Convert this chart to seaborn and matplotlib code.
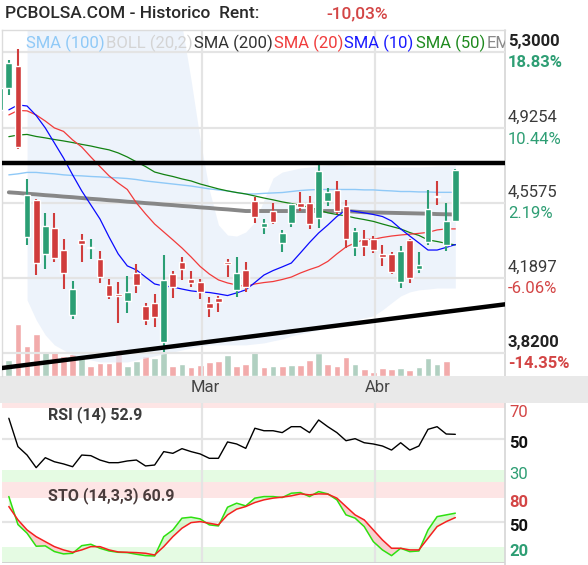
import matplotlib
matplotlib.use("Agg")

import matplotlib.pyplot as plt
import matplotlib.transforms as mtransforms
import numpy as np
import seaborn as sns
from matplotlib.lines import Line2D
from matplotlib.patches import Rectangle

W, H = 588, 565

# daily candles, day index 0..50
DAYS = list(range(51))
OPEN = [5.014, 5.121, 5.231, 4.391, 4.572, 4.307, 4.434, 4.325, 4.007, 4.375,
        4.335, 4.283, 4.153, 4.110, 4.076, 4.214, 4.051, 4.066, 3.874, 4.206,
        4.268, 4.183, 4.169, 4.063, 4.088, 4.268, 4.129, 4.227, 4.567, 4.440,
        4.519, 4.358, 4.457, 4.557, 4.558, 4.481, 4.567, 4.621, 4.543, 4.340,
        4.380, 4.378, 4.306, 4.306, 4.169, 4.375, 4.230, 4.363, 4.593, 4.350,
        4.468]
HIGH = [5.130, 5.261, 5.313, 4.673, 4.576, 4.506, 4.506, 4.378, 4.174, 4.404,
        4.378, 4.322, 4.181, 4.169, 4.197, 4.257, 4.063, 4.109, 4.301, 4.222,
        4.290, 4.222, 4.181, 4.096, 4.099, 4.280, 4.290, 4.268, 4.585, 4.478,
        4.555, 4.424, 4.558, 4.611, 4.591, 4.744, 4.631, 4.665, 4.572, 4.435,
        4.424, 4.394, 4.350, 4.317, 4.345, 4.380, 4.316, 4.621, 4.665, 4.555,
        4.726]
LOW = [5.000, 5.088, 4.823, 4.352, 4.204, 4.233, 4.268, 4.132, 3.984, 4.268,
       4.283, 4.164, 4.086, 3.968, 4.017, 4.112, 3.956, 3.948, 3.825, 4.091,
       4.178, 4.145, 4.083, 3.997, 4.022, 4.194, 4.096, 4.117, 4.460, 4.403,
       4.452, 4.317, 4.440, 4.519, 4.430, 4.432, 4.543, 4.503, 4.334, 4.296,
       4.296, 4.309, 4.248, 4.206, 4.140, 4.164, 4.211, 4.350, 4.547, 4.322,
       4.463]
CLOSE = [5.121, 5.247, 4.834, 4.596, 4.263, 4.444, 4.288, 4.211, 4.132, 4.353,
         4.342, 4.194, 4.100, 4.098, 4.117, 4.153, 3.981, 3.994, 4.178, 4.145,
         4.232, 4.162, 4.120, 4.038, 4.071, 4.255, 4.211, 4.145, 4.489, 4.460,
         4.465, 4.408, 4.550, 4.539, 4.452, 4.714, 4.609, 4.516, 4.378, 4.420,
         4.345, 4.325, 4.290, 4.216, 4.322, 4.186, 4.252, 4.526, 4.588, 4.468,
         4.719]
VOLUME = [1.20, 1.60, 5.17, 3.00, 4.17, 2.50, 2.40, 2.00, 2.17, 1.90,
          1.00, 1.33, 1.33, 2.67, 1.00, 1.50, 2.00, 1.83, 2.50, 1.00,
          1.23, 0.90, 1.10, 1.40, 1.50, 2.10, 1.00, 1.23, 2.50, 0.90,
          1.00, 1.00, 1.10, 1.10, 1.60, 2.27, 1.23, 1.00, 1.90, 1.23,
          0.67, 0.40, 0.77, 0.67, 0.77, 0.57, 0.90, 1.77, 1.23, 1.50,
          0.00]
VOLUME_UP = [1, 1, 0, 0, 0, 1, 0, 0, 0, 1,
             0, 0, 0, 0, 1, 1, 0, 1, 1, 0,
             1, 0, 0, 0, 0, 1, 0, 0, 1, 0,
             1, 0, 1, 0, 0, 1, 0, 0, 0, 1,
             0, 0, 0, 0, 1, 0, 1, 1, 1, 0,
             1]

# indicators, day index 1..50
IND_DAYS = list(range(1, 51))
SMA10 = [5.015, 5.039, 5.034, 4.987, 4.926, 4.852, 4.778, 4.695, 4.616, 4.547,
         4.478, 4.389, 4.306, 4.247, 4.227, 4.192, 4.158, 4.148, 4.143, 4.133,
         4.124, 4.119, 4.116, 4.109, 4.101, 4.114, 4.129, 4.165, 4.202, 4.224,
         4.242, 4.261, 4.311, 4.362, 4.409, 4.448, 4.490, 4.522, 4.515, 4.508,
         4.500, 4.490, 4.468, 4.429, 4.394, 4.360, 4.325, 4.325, 4.338, 4.352]
SMA20 = [4.990, 5.012, 5.010, 4.990, 4.960, 4.926, 4.909, 4.867, 4.832, 4.783,
         4.736, 4.690, 4.655, 4.623, 4.557, 4.503, 4.453, 4.414, 4.375, 4.335,
         4.291, 4.244, 4.207, 4.178, 4.163, 4.153, 4.146, 4.158, 4.165, 4.170,
         4.180, 4.192, 4.212, 4.229, 4.244, 4.269, 4.306, 4.340, 4.360, 4.377,
         4.378, 4.387, 4.394, 4.399, 4.403, 4.407, 4.412, 4.424, 4.429, 4.429]
SMA50 = [4.883, 4.891, 4.894, 4.884, 4.877, 4.869, 4.862, 4.854, 4.845, 4.837,
         4.827, 4.818, 4.803, 4.783, 4.759, 4.736, 4.709, 4.697, 4.687, 4.675,
         4.665, 4.650, 4.638, 4.626, 4.616, 4.608, 4.601, 4.591, 4.581, 4.572,
         4.562, 4.554, 4.545, 4.535, 4.522, 4.508, 4.500, 4.493, 4.483, 4.475,
         4.466, 4.453, 4.441, 4.429, 4.411, 4.397, 4.375, 4.367, 4.358, 4.350]
SMA100 = [4.695, 4.700, 4.707, 4.707, 4.703, 4.700, 4.695, 4.692, 4.690, 4.687,
          4.685, 4.682, 4.680, 4.677, 4.672, 4.665, 4.660, 4.655, 4.650, 4.645,
          4.640, 4.633, 4.626, 4.621, 4.616, 4.608, 4.601, 4.601, 4.604, 4.606,
          4.608, 4.613, 4.618, 4.621, 4.623, 4.623, 4.623, 4.623, 4.623, 4.621,
          4.621, 4.618, 4.616, 4.613, 4.613, 4.611, 4.611, 4.609, 4.609, 4.609]
SMA200 = [4.609, 4.606, 4.602, 4.599, 4.595, 4.592, 4.588, 4.585, 4.581, 4.577,
          4.574, 4.570, 4.567, 4.563, 4.560, 4.556, 4.553, 4.549, 4.546, 4.542,
          4.539, 4.535, 4.532, 4.528, 4.525, 4.521, 4.517, 4.517, 4.517, 4.517,
          4.517, 4.517, 4.517, 4.517, 4.517, 4.517, 4.517, 4.517, 4.514, 4.511,
          4.510, 4.509, 4.508, 4.507, 4.506, 4.505, 4.504, 4.502, 4.501, 4.500]

# bollinger (20,2), day index 3..50
BOLL_DAYS = list(range(3, 51))
BOLL_UP = [5.52, 5.58, 5.62, 5.64, 5.65, 5.66, 5.66, 5.65, 5.64, 5.62,
           5.60, 5.58, 5.55, 5.52, 5.50, 5.47, 5.45, 5.43, 5.162, 4.867,
           4.621, 4.449, 4.399, 4.394, 4.414, 4.463, 4.572, 4.680, 4.709, 4.719,
           4.729, 4.734, 4.739, 4.744, 4.744, 4.741, 4.739, 4.739, 4.736, 4.734,
           4.734, 4.734, 4.734, 4.734, 4.736, 4.739, 4.739, 4.739]
BOLL_DN = [4.079, 3.981, 3.907, 3.858, 3.833, 3.809, 3.794, 3.784, 3.774, 3.774,
           3.774, 3.774, 3.784, 3.794, 3.804, 3.814, 3.823, 3.833, 3.843, 3.853,
           3.858, 3.858, 3.858, 3.858, 3.858, 3.863, 3.868, 3.878, 3.887, 3.902,
           3.912, 3.922, 3.932, 3.942, 3.956, 3.971, 3.981, 3.991, 4.001, 4.030,
           4.065, 4.099, 4.119, 4.129, 4.133, 4.138, 4.138, 4.138]

RSI = [63.2, 45.0, 39.6, 31.5, 37.9, 35.3, 33.9, 32.1, 39.6, 39.2,
       36.4, 34.7, 34.7, 35.8, 36.4, 32.6, 33.2, 41.8, 40.7, 43.7,
       41.8, 40.3, 37.5, 37.5, 48.0, 46.7, 43.9, 56.8, 55.2, 55.2,
       54.0, 57.8, 57.8, 54.0, 62.1, 57.8, 54.0, 48.8, 50.1, 47.5,
       46.7, 45.4, 42.8, 47.5, 42.8, 45.4, 56.1, 57.8, 53.1, 52.9]
STO_K = [81.2, 47.0, 36.4, 20.5, 20.9, 14.0, 11.1, 11.9, 21.2, 22.9,
         18.0, 14.7, 13.1, 12.7, 10.7, 9.0, 8.6, 32.2, 40.4, 54.8,
         56.0, 53.9, 46.6, 45.3, 68.2, 73.1, 69.8, 79.3, 81.2, 81.2,
         80.0, 85.3, 86.1, 81.2, 87.3, 84.5, 77.2, 58.8, 54.8, 44.5,
         26.1, 16.0, 9.0, 18.0, 13.9, 14.7, 40.4, 56.7, 58.8, 60.9]
STO_D = [69.0, 52.7, 40.4, 32.2, 26.1, 20.0, 16.0, 13.1, 16.0, 20.0,
         20.0, 16.0, 13.5, 13.1, 12.7, 11.9, 9.8, 20.0, 32.2, 42.5,
         49.4, 50.6, 48.6, 46.6, 58.8, 65.8, 69.0, 73.9, 77.2, 79.3,
         80.5, 82.1, 84.5, 83.3, 84.5, 84.2, 79.3, 69.0, 58.8, 52.7,
         40.4, 28.2, 18.0, 18.0, 16.0, 16.0, 30.3, 44.5, 50.6, 55.5]

# drawn trend lines
RESIST_LEVEL = 4.755
SUPPORT_X = [0.0, 55.5]
SUPPORT_Y = [3.743, 4.058]

PRICE_TICKS = [5.3, 4.9254, 4.5575, 4.1897, 3.82]
PRICE_LABELS = ["5,3000", "4,9254", "4,5575", "4,1897", "3,8200"]
PCT_LABELS = ["18.83%", "10.44%", "2.19%", "-6.06%", "-14.35%"]
MONTH_POS = [22.25, 41.2]
MONTH_LABELS = ["Mar", "Abr"]

LEGEND = [("SMA (100)", "#8fc9f7", 25.5), ("BOLL (20,2)", "#d4d4d4", 106),
          ("SMA (200)", "#333333", 194), ("SMA (20)", "#f03c3c", 274),
          ("SMA (10)", "#1a1aff", 344), ("SMA (50)", "#1e8a1e", 416),
          ("EMA", "#8a8a8a", 487)]

UP, DOWN = "#2b9e74", "#d03c3c"
VOL_UP_C, VOL_DN_C = "#b1d0c1", "#f2abab"
GREEN_TXT, RED_TXT = "#2e9e74", "#d34545"


def rect(left, top, right, bottom):
    return [left / W, 1 - bottom / H, (right - left) / W, (bottom - top) / H]


def style():
    sns.set_theme(style="white")
    plt.rcParams.update({"font.family": ["Roboto", "DejaVu Sans"], "axes.linewidth": 0})


def draw_price(fig):
    ax = fig.add_axes(rect(2, 30, 505, 376))
    vol = ax.twinx()
    ax.set_zorder(2)
    ax.patch.set_visible(False)
    vol.set_facecolor("white")

    vol.bar(DAYS, VOLUME, width=0.74,
            color=[VOL_UP_C if u else VOL_DN_C for u in VOLUME_UP], zorder=1)
    vol.set_ylim(0, 34.6)
    vol.set_yticks([])

    ax.fill_between(BOLL_DAYS, BOLL_DN, BOLL_UP, color="#e6eefa", alpha=0.7,
                    lw=0, zorder=0.5)

    for vals, color, lw, z in [(SMA100, "#8fc9f7", 1.0, 2), (SMA200, "#878787", 2.8, 2.1),
                               (SMA50, "#128212", 0.9, 2.2), (SMA20, "#f23b3b", 0.9, 2.3),
                               (SMA10, "#0a0aff", 0.9, 2.4)]:
        sns.lineplot(x=IND_DAYS, y=vals, ax=ax, color=color, lw=lw, zorder=z,
                     estimator=None, sort=False, legend=False)

    o, c = np.array(OPEN), np.array(CLOSE)
    colors = [UP if cc >= oo else DOWN for oo, cc in zip(o, c)]
    ax.vlines(DAYS, LOW, HIGH, colors=colors, lw=1.5, zorder=3)
    ax.bar(DAYS, np.maximum(np.abs(c - o), 0.005), bottom=np.minimum(o, c),
           width=0.74, color=colors, zorder=3.1)

    ax.axhline(RESIST_LEVEL, color="black", lw=3.2, zorder=4)
    ax.axline((SUPPORT_X[0], SUPPORT_Y[0]), (SUPPORT_X[1], SUPPORT_Y[1]),
              color="black", lw=3.2, zorder=4)

    ax.set_xlim(0.25, 55.45)
    ax.set_ylim(3.705, 5.408)
    ax.set_yticks(PRICE_TICKS)
    ax.set_xticks(MONTH_POS)
    ax.tick_params(labelleft=False, labelbottom=False, length=0)
    ax.set_xlabel("")
    ax.set_ylabel("")
    ax.grid(True, color="#e4e4e4", lw=1.6)
    ax.set_axisbelow(True)
    for side, sp in ax.spines.items():
        sp.set_visible(side in ("top", "left"))
        sp.set_color("#dcdcdc")
        sp.set_linewidth(1)
    for sp in vol.spines.values():
        sp.set_visible(False)

    for text, color, px in LEGEND:
        t = ax.text((px - 2) / 503, (376 - 43) / 346, text, color=color, fontsize=12,
                    transform=ax.transAxes, va="center", ha="left", clip_on=True, zorder=5)
        t.set_clip_box(ax.bbox)

    for i, (p, lab, pct) in enumerate(zip(PRICE_TICKS, PRICE_LABELS, PCT_LABELS)):
        edge = i in (0, len(PRICE_TICKS) - 1)
        weight = "bold" if edge else "normal"
        pcol = GREEN_TXT if not pct.startswith("-") else RED_TXT
        ax.annotate(lab, xy=(1, p), xycoords=("axes fraction", "data"),
                    xytext=(3, 10.5), textcoords="offset pixels", va="center",
                    ha="left", fontsize=12, fontweight=weight,
                    color="#222222" if edge else "#3a3a3a", annotation_clip=False)
        ax.annotate(pct, xy=(1, p), xycoords=("axes fraction", "data"),
                    xytext=(3, -11), textcoords="offset pixels", va="center",
                    ha="left", fontsize=12, fontweight=weight, color=pcol,
                    annotation_clip=False)
    return ax


def draw_osc(fig, box, ylim, lo, hi, grid_ticks):
    ax = fig.add_axes(rect(*box))
    ax.set_facecolor("white")
    ax.axhspan(hi, ylim[1], color="#fde5e5", lw=0, zorder=0)
    ax.axhspan(ylim[0], lo, color="#e5fbe3", lw=0, zorder=0)
    ax.set_xlim(0.25, 55.45)
    ax.set_ylim(*ylim)
    ax.set_yticks(grid_ticks)
    ax.set_xticks(MONTH_POS)
    ax.tick_params(labelleft=False, labelbottom=False, length=0)
    ax.grid(True, color="#e4e4e4", lw=1.6)
    ax.set_axisbelow(True)
    for sp in ax.spines.values():
        sp.set_visible(False)
    return ax


def side_label(ax, value, text, color, weight):
    ax.annotate(text, xy=(1, value), xycoords=("axes fraction", "data"),
                xytext=(4, -4.5), textcoords="offset pixels", va="center", ha="left",
                fontsize=12, fontweight=weight, color=color, annotation_clip=False)


def main():
    style()
    fig = plt.figure(figsize=(W / 100, H / 100), dpi=100)
    fig.patch.set_facecolor("white")

    ax = draw_price(fig)

    rsi_ax = draw_osc(fig, (2, 403, 505, 482), (22.3, 73.0), 30, 70, [50])
    sns.lineplot(x=IND_DAYS, y=RSI, ax=rsi_ax, color="black", lw=1.0,
                 estimator=None, sort=False, legend=False)
    rsi_ax.set_xlabel("")
    rsi_ax.set_ylabel("")
    rsi_ax.text((48 - 2) / 503, (482 - 415) / 79, "RSI (14) 52.9", transform=rsi_ax.transAxes,
                fontsize=11.5, fontweight="bold", color="#3c3c3c", va="center")
    side_label(rsi_ax, 70, "70", RED_TXT, "normal")
    side_label(rsi_ax, 50, "50", "#111111", "bold")
    side_label(rsi_ax, 30, "30", GREEN_TXT, "normal")

    sto_ax = draw_osc(fig, (2, 482, 505, 563), (0, 99), 20, 80, [50])
    k, d = np.array(STO_K), np.array(STO_D)
    sto_ax.fill_between(IND_DAYS, k, d, where=k >= d, interpolate=True,
                        color="#d6f7cf", lw=0, zorder=1)
    sto_ax.fill_between(IND_DAYS, k, d, where=k < d, interpolate=True,
                        color="#f9cfcf", lw=0, zorder=1)
    sns.lineplot(x=IND_DAYS, y=STO_K, ax=sto_ax, color="#2ee010", lw=1.1, zorder=2,
                 estimator=None, sort=False, legend=False)
    sns.lineplot(x=IND_DAYS, y=STO_D, ax=sto_ax, color="#f52020", lw=1.1, zorder=2.1,
                 estimator=None, sort=False, legend=False)
    sto_ax.set_xlabel("")
    sto_ax.set_ylabel("")
    sto_ax.text((48 - 2) / 503, (563 - 496) / 81, "STO (14,3,3) 60.9",
                transform=sto_ax.transAxes, fontsize=11.5, fontweight="bold",
                color="#4a3c3c", va="center")
    side_label(sto_ax, 80, "80", RED_TXT, "bold")
    side_label(sto_ax, 50, "50", "#111111", "bold")
    side_label(sto_ax, 20, "20", GREEN_TXT, "bold")
    sto_ax.axhline(0, color="#cfcfcf", lw=2)

    # date strip and right axis rule, drawn under the price axes so the month names show
    fig.add_artist(Line2D([505 / W, 505 / W], [0, 1 - 30 / H], color="#d6d6d6", lw=1.2,
                          zorder=0.5))
    fig.add_artist(Rectangle((0, 1 - 403 / H), 1, 27 / H, transform=fig.transFigure,
                             facecolor="#e9e9e9", edgecolor="none", zorder=1))
    strip = mtransforms.blended_transform_factory(ax.transData, fig.transFigure)
    for pos, lab in zip(MONTH_POS, MONTH_LABELS):
        ax.text(pos + 0.3, 1 - 387 / H, lab, transform=strip, ha="center", va="center",
                fontsize=12, color="#444444", clip_on=False, zorder=6)

    fig.text(5 / W, 1 - 14 / H, "PCBOLSA.COM - Historico  Rent:", fontsize=12.5,
             fontweight="medium", color="#2a2a2a", va="center")
    fig.text(326 / W, 1 - 14 / H, "-10,03%", fontsize=12.5, fontweight="medium",
             color=RED_TXT, va="center")

    fig.savefig("out.png", dpi=100, facecolor="white")
    plt.close(fig)


if __name__ == "__main__":
    main()
